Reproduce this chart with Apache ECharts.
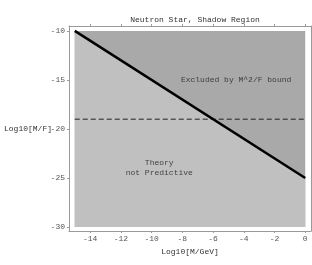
<!DOCTYPE html>
<html><head><meta charset="utf-8">
<script src="https://cdn.jsdelivr.net/npm/echarts@6/dist/echarts.min.js"></script>
<style>html,body{margin:0;padding:0;background:#fff}#c{width:312px;height:265px}</style>
</head><body><div id="c"></div>
<script>
var xTicks = [-14, -12, -10, -8, -6, -4, -2, 0];
var yTicks = [-30, -25, -20, -15, -10];
var regionX = [-15, 0];
var regionTop = [-10, -10];
var regionBottom = -30;
var boundaryY = [-10, -25];
var dashedY = [-19, -19];
var labels = [
  {x: -4.5, y: -15, text: 'Excluded by M^2/F bound'},
  {x: -9.5, y: -24, text: 'Theory\nnot Predictive'}
];
var font = 'Liberation Mono';
var txt = '#333';
var frame = '#9a9a9a';
function pts(ys){ return regionX.map(function(x,i){ return [x, ys[i]]; }); }
var axBase = {
  axisLine: {show: true, onZero: false, lineStyle: {color: frame, width: 1}},
  splitLine: {show: false}
};
var chart = echarts.init(document.getElementById('c'));
chart.setOption({
  animation: false,
  backgroundColor: '#fff',
  title: {text: 'Neutron Star, Shadow Region', left: 190, textAlign: 'center', top: 11,
    textStyle: {fontFamily: font, fontSize: 8, fontWeight: 'normal', color: txt}},
  grid: {left: 69, right: 1, top: 26, bottom: 34, containLabel: false, outerBoundsMode: 'none'},
  xAxis: [
    Object.assign({type: 'value', min: -15.375, max: 0.375, position: 'bottom',
      name: 'Log10[M/GeV]', nameLocation: 'middle', nameGap: 16,
      nameTextStyle: {fontFamily: font, fontSize: 8, color: txt},
      axisTick: {show: true, customValues: xTicks, length: 2, lineStyle: {color: frame}},
      axisLabel: {customValues: xTicks, fontFamily: font, fontSize: 8, color: '#555', margin: 4}}, axBase),
    Object.assign({type: 'value', min: -15.375, max: 0.375, position: 'top',
      axisTick: {show: true, customValues: xTicks, length: 2, lineStyle: {color: frame}},
      axisLabel: {show: false}}, axBase)
  ],
  yAxis: [
    Object.assign({type: 'value', min: -30.4, max: -9.5, position: 'left',
      name: 'Log10[M/F]', nameLocation: 'middle', nameGap: 17, nameRotate: 0, nameMoveOverlap: false,
      nameTextStyle: {fontFamily: font, fontSize: 8, color: txt, align: 'right'},
      axisTick: {show: true, customValues: yTicks, length: 2, lineStyle: {color: frame}},
      axisLabel: {customValues: yTicks, fontFamily: font, fontSize: 8, color: '#555', margin: 4}}, axBase),
    Object.assign({type: 'value', min: -30.4, max: -9.5, position: 'right',
      axisTick: {show: true, customValues: yTicks, length: 2, lineStyle: {color: frame}},
      axisLabel: {show: false}}, axBase)
  ],
  series: [
    {type: 'line', data: pts(regionTop), symbol: 'none', lineStyle: {width: 0},
      areaStyle: {color: '#a9a9a9', opacity: 1, origin: regionBottom}, z: 1},
    {type: 'line', data: pts(boundaryY), symbol: 'none', lineStyle: {width: 0},
      areaStyle: {color: '#c0c0c0', opacity: 1, origin: regionBottom}, z: 2},
    {type: 'line', data: pts(dashedY), symbol: 'none',
      lineStyle: {color: '#222', width: 1, type: [5, 3]}, z: 3},
    {type: 'line', data: pts(boundaryY), symbol: 'none',
      lineStyle: {color: '#000', width: 2.5}, z: 4},
    {type: 'scatter', symbolSize: 0, z: 5,
      data: labels.map(function(l){ return {value: [l.x, l.y], name: l.text}; }),
      label: {show: true, position: 'inside', formatter: function(p){ return p.name; },
        fontFamily: font, fontSize: 8, color: '#222', lineHeight: 10, align: 'center'}}
  ]
});
</script></body></html>
